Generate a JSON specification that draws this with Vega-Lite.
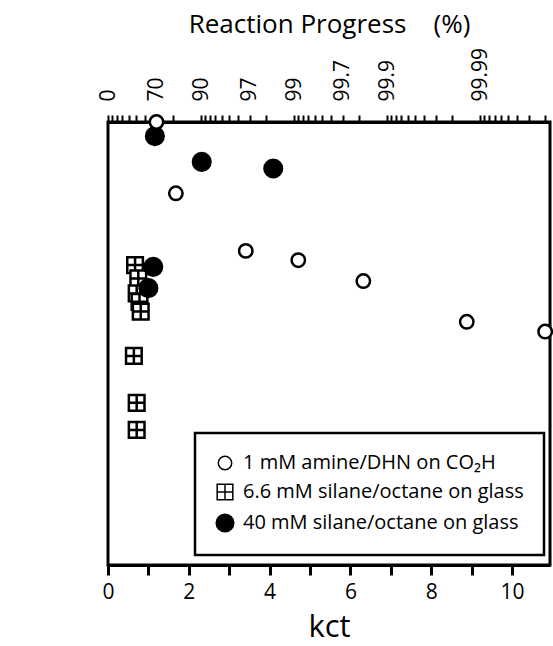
{
  "$schema": "https://vega.github.io/schema/vega-lite/v6.json",
  "width": 442,
  "height": 443,
  "autosize": {"type": "none"},
  "padding": {"left": 108, "top": 122, "right": 3, "bottom": 81},
  "config": {
    "font": "Open Sans",
    "view": {"stroke": "black", "strokeWidth": 3},
    "axis": {"grid": false, "domainColor": "black", "domainWidth": 3, "tickColor": "black", "tickOpacity": 1, "labelColor": "black", "titleColor": "black", "labelFont": "Open Sans", "titleFont": "Open Sans", "titleFontWeight": "normal", "labelFlush": false, "labelOverlap": false, "labelBound": false},
    "legend": {"strokeColor": "black", "strokeWidth": 2.5, "fillColor": "white"}
  },
  "data": {
    "values": [
      {"series": "6.6 mM silane/octane on glass", "kct": 0.67, "v": 0.677},
      {"series": "6.6 mM silane/octane on glass", "kct": 0.75, "v": 0.647},
      {"series": "6.6 mM silane/octane on glass", "kct": 0.71, "v": 0.613},
      {"series": "6.6 mM silane/octane on glass", "kct": 0.78, "v": 0.594},
      {"series": "6.6 mM silane/octane on glass", "kct": 0.81, "v": 0.572},
      {"series": "6.6 mM silane/octane on glass", "kct": 0.64, "v": 0.472},
      {"series": "6.6 mM silane/octane on glass", "kct": 0.71, "v": 0.366},
      {"series": "6.6 mM silane/octane on glass", "kct": 0.71, "v": 0.305},
      {"series": "40 mM silane/octane on glass", "kct": 1.16, "v": 0.968},
      {"series": "40 mM silane/octane on glass", "kct": 2.32, "v": 0.91},
      {"series": "40 mM silane/octane on glass", "kct": 4.09, "v": 0.895},
      {"series": "40 mM silane/octane on glass", "kct": 1.12, "v": 0.673},
      {"series": "40 mM silane/octane on glass", "kct": 1.0, "v": 0.625},
      {"series": "1 mM amine/DHN on CO₂H", "kct": 1.2, "v": 1.0},
      {"series": "1 mM amine/DHN on CO₂H", "kct": 1.68, "v": 0.839},
      {"series": "1 mM amine/DHN on CO₂H", "kct": 3.41, "v": 0.709},
      {"series": "1 mM amine/DHN on CO₂H", "kct": 4.71, "v": 0.688},
      {"series": "1 mM amine/DHN on CO₂H", "kct": 6.32, "v": 0.641},
      {"series": "1 mM amine/DHN on CO₂H", "kct": 8.88, "v": 0.549},
      {"series": "1 mM amine/DHN on CO₂H", "kct": 10.82, "v": 0.527}
    ]
  },
  "layer": [
    {
      "mark": {"type": "point", "opacity": 0},
      "encoding": {
        "x": {
          "field": "kct", "type": "quantitative",
          "scale": {"domain": [0, 10.94], "nice": false, "zero": false},
          "axis": {
            "orient": "bottom",
            "values": [0, 1, 2, 3, 4, 5, 6, 7, 8, 9, 10],
            "labelExpr": "datum.value % 2 == 0 ? format(datum.value, 'd') : ''",
            "labelAngle": 0,
            "ticks": true,
            "tickSize": 10,
            "tickWidth": 3,
            "tickColor": "black",
            "labelFontSize": 21,
            "labelPadding": 6,
            "title": "kct",
            "titleFontSize": 31,
            "titlePadding": 10
          }
        },
        "y": {"field": "v", "type": "quantitative", "scale": {"domain": [0, 1], "nice": false}, "axis": null}
      }
    },
    {
      "mark": {"type": "point", "opacity": 0},
      "encoding": {
        "x": {
          "field": "kct", "type": "quantitative",
          "scale": {"domain": [0, 10.94], "nice": false, "zero": false},
          "axis": {
            "orient": "top",
            "values": [0, 0.1054, 0.2231, 0.3567, 0.5108, 0.6931, 0.9163, 1.204, 1.6094, 2.3026, 2.4079, 2.5257, 2.6593, 2.8134, 2.9957, 3.2189, 3.5066, 3.912, 4.6052, 4.7105, 4.8283, 4.9618, 5.116, 5.2983, 5.5215, 5.8091, 6.2146, 6.9078, 7.0131, 7.1309, 7.2644, 7.4186, 7.6009, 7.824, 8.1117, 8.5172, 9.2103, 9.3157, 9.4335, 9.567, 9.7212, 9.9035, 10.1266, 10.4143, 10.8198],
            "labelExpr": "indexof(['0.000','1.204','2.303','3.507','4.605','5.809','6.908','9.210'], format(datum.value, '.3f')) >= 0 ? ['0','70','90','97','99','99.7','99.9','99.99'][indexof(['0.000','1.204','2.303','3.507','4.605','5.809','6.908','9.210'], format(datum.value, '.3f'))] : ''",
            "labelAngle": 270,
            "labelAlign": "left",
            "labelBaseline": "middle",
            "labelFontSize": 21,
            "labelPadding": 14,
            "tickSize": 7,
            "tickWidth": 2,
            "title": "Reaction Progress\u00a0\u00a0\u00a0\u00a0(%)",
            "titleFontSize": 26,
            "titlePadding": 10
          }
        },
        "y": {
          "field": "v", "type": "quantitative",
          "scale": {"domain": [0, 1], "nice": false},
          "axis": {
            "orient": "left",
            "values": [0, 0.1, 0.2, 0.3, 0.4, 0.5, 0.6, 0.7, 0.8, 0.9, 1.0],
            "labelExpr": "round(datum.value * 10) % 2 == 1 ? '' : (datum.value == 0 ? '0' : format(datum.value, '.1f'))",
            "labelAngle": 0,
            "ticks": true,
            "tickSize": 9,
            "tickWidth": 3,
            "tickColor": "black",
            "labelFontSize": 22,
            "labelPadding": 5,
            "title": "Fraction of Maximum Drop Velocity",
            "titleFontSize": 24,
            "titlePadding": 20
          }
        }
      }
    },
    {
      "mark": {"type": "point", "filled": true, "stroke": "black", "strokeWidth": 2.5, "opacity": 1},
      "encoding": {
        "x": {"field": "kct", "type": "quantitative", "scale": {"domain": [0, 10.94], "nice": false, "zero": false}, "axis": null},
        "y": {"field": "v", "type": "quantitative", "scale": {"domain": [0, 1], "nice": false}, "axis": null},
        "shape": {
          "field": "series", "type": "nominal",
          "scale": {"domain": ["1 mM amine/DHN on CO₂H", "6.6 mM silane/octane on glass", "40 mM silane/octane on glass"], "range": ["circle", "M-1,-1H1V1H-1Z M0,-1V1 M-1,0H1", "circle"]},
          "legend": {"orient": "none", "legendX": 87, "legendY": 311, "title": null, "padding": 20, "labelFontSize": 20, "labelFont": "Open Sans", "labelColor": "black", "labelLimit": 400, "symbolOpacity": 1, "rowPadding": 8, "labelOffset": 8,
            "encode": {"symbols": {"update": {"stroke": {"value": "black"}, "strokeWidth": {"value": 2.5}}}}}
        },
        "fill": {
          "field": "series", "type": "nominal",
          "scale": {"domain": ["1 mM amine/DHN on CO₂H", "6.6 mM silane/octane on glass", "40 mM silane/octane on glass"], "range": ["white", "white", "black"]},
          "legend": {"orient": "none", "legendX": 87, "legendY": 311, "title": null, "padding": 20, "labelFontSize": 20, "labelFont": "Open Sans", "labelColor": "black", "labelLimit": 400, "symbolOpacity": 1, "rowPadding": 8, "labelOffset": 8,
            "encode": {"symbols": {"update": {"stroke": {"value": "black"}, "strokeWidth": {"value": 2.5}}}}}
        },
        "size": {
          "field": "series", "type": "nominal",
          "scale": {"type": "point", "padding": 0, "domain": ["1 mM amine/DHN on CO₂H", "6.6 mM silane/octane on glass", "40 mM silane/octane on glass"], "range": [180, 310]},
          "legend": {"orient": "none", "legendX": 87, "legendY": 311, "title": null, "padding": 20, "labelFontSize": 20, "labelFont": "Open Sans", "labelColor": "black", "labelLimit": 400, "symbolOpacity": 1, "rowPadding": 8, "labelOffset": 8,
            "encode": {"symbols": {"update": {"stroke": {"value": "black"}, "strokeWidth": {"value": 2.5}}}}}
        }
      }
    }
  ],
  "resolve": {"scale": {"x": "independent"}}
}
